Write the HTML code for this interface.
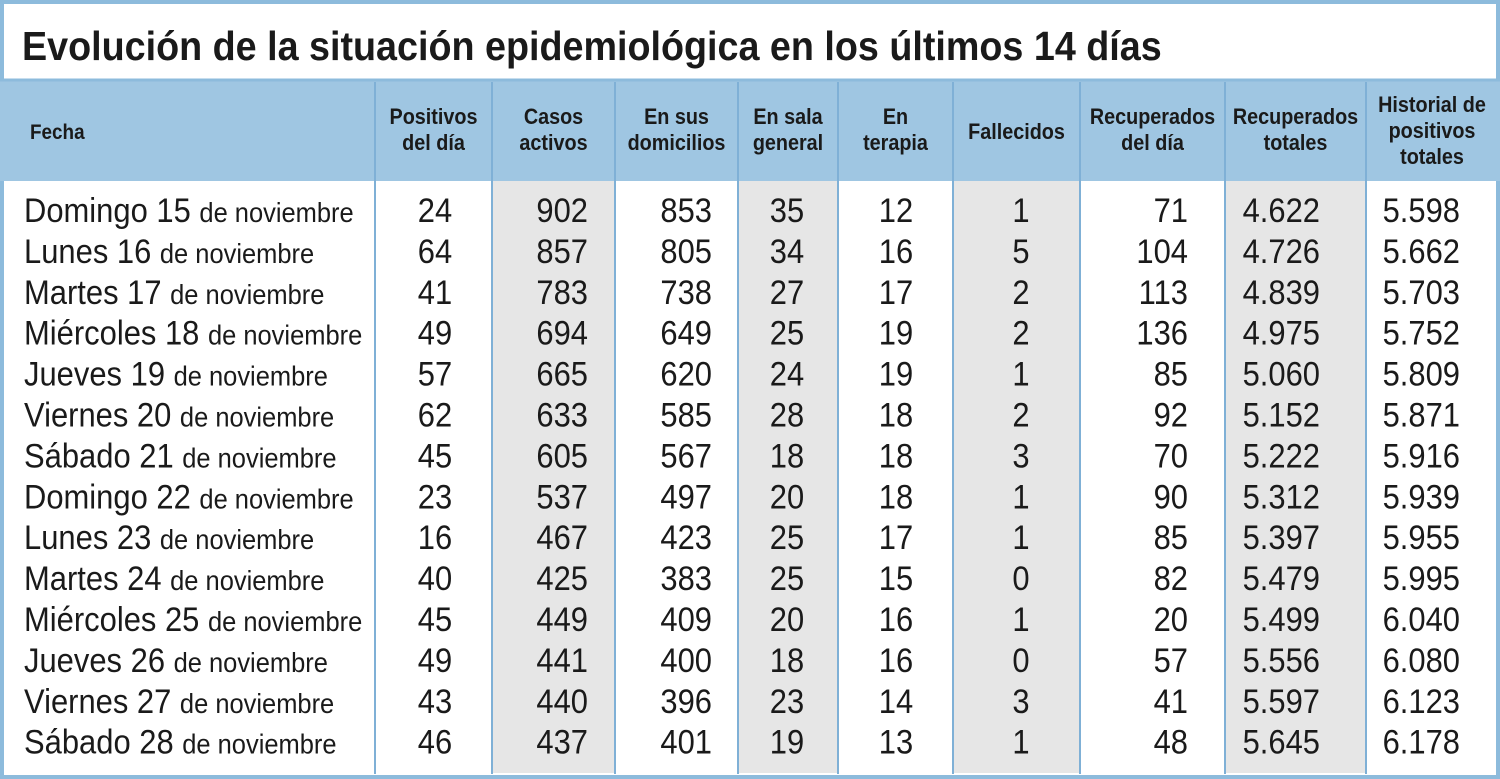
<!DOCTYPE html>
<html><head><meta charset="utf-8"><style>
html,body{margin:0;padding:0;background:#fff}
svg{display:block}
text{font-family:"Liberation Sans",sans-serif;fill:#1a1a1a}
</style></head><body>
<svg id="s" width="1500" height="779" viewBox="0 0 1500 779">
<rect x="0" y="0" width="1500" height="779" fill="#fff"/>
<rect x="2" y="2" width="1496" height="775" fill="none" stroke="#8dbbdc" stroke-width="4"/>
<rect x="0" y="80" width="1500" height="101" fill="#9fc6e2"/>
<line x1="0" y1="80" x2="1500" y2="80" stroke="#8dbbdc" stroke-width="3"/>
<text transform="translate(22,60) scale(0.92,1)" font-size="41" font-weight="bold">Evolución de la situación epidemiológica en los últimos 14 días</text>
<g id="grid"></g>
<g id="body"></g>
</svg>
<script>
const headers=[["Positivos","del día"],["Casos","activos"],["En sus","domicilios"],["En sala","general"],["En","terapia"],["Fallecidos"],["Recuperados","del día"],["Recuperados","totales"],["Historial de","positivos","totales"]];
const days=["Domingo 15","Lunes 16","Martes 17","Miércoles 18","Jueves 19","Viernes 20","Sábado 21","Domingo 22","Lunes 23","Martes 24","Miércoles 25","Jueves 26","Viernes 27","Sábado 28"];
const positivos=[24,64,41,49,57,62,45,23,16,40,45,49,43,46];
const activos=[902,857,783,694,665,633,605,537,467,425,449,441,440,437];
const domicilios=[853,805,738,649,620,585,567,497,423,383,409,400,396,401];
const sala=[35,34,27,25,24,28,18,20,25,25,20,18,23,19];
const terapia=[12,16,17,19,19,18,18,18,17,15,16,16,14,13];
const fallecidos=[1,5,2,2,1,2,3,1,1,0,1,0,3,1];
const recDia=[71,104,113,136,85,92,70,90,85,82,20,57,41,48];
const recTot=["4.622","4.726","4.839","4.975","5.060","5.152","5.222","5.312","5.397","5.479","5.499","5.556","5.597","5.645"];
const historial=["5.598","5.662","5.703","5.752","5.809","5.871","5.916","5.939","5.955","5.995","6.040","6.080","6.123","6.178"];
const cols=[positivos,activos,domicilios,sala,terapia,fallecidos,recDia,recTot,historial];
const bounds=[375,492,615,738,838,953,1080,1225,1366,1498];
const anchors=[[435,'middle'],[588,'end'],[712,'end'],[787,'middle'],[896,'middle'],[1021,'middle'],[1188,'end'],[1320,'end'],[1460,'end']];
const shaded=[1,3,5,7];
const NS="http://www.w3.org/2000/svg";
const grid=document.getElementById('grid'),body=document.getElementById('body');
function mk(tag,attrs,parent){const e=document.createElementNS(NS,tag);for(const k in attrs)e.setAttribute(k,attrs[k]);parent.appendChild(e);return e;}
const rowY=i=>222+i*40.9;
shaded.forEach(c=>{const r=mk('rect',{x:bounds[c],y:181,width:bounds[c+1]-bounds[c],height:592,fill:'#e6e6e6'},grid);

});
bounds.slice(0,9).forEach(x=>{const l=mk('line',{x1:x,y1:82,x2:x,y2:774,stroke:'#7fb0d6','stroke-width':2},grid);

});
const fh=mk('text',{transform:'translate(30,139) scale(0.9,1)','font-size':21,'font-weight':'bold'},body);fh.textContent='Fecha';


headers.forEach((h,c)=>{const cx=(bounds[c]+bounds[c+1])/2;const n=h.length;const y0=(n===3?112:n===2?124:139);
h.forEach((ln,j)=>{const t=mk('text',{transform:`translate(${cx},${y0+j*26}) scale(0.9,1)`,'font-size':22,'font-weight':'bold','text-anchor':'middle'},body);t.textContent=ln;

});});
days.forEach((d,i)=>{const y=rowY(i);
const t=mk('text',{transform:`translate(24,${y}) scale(0.91,1)`,'font-size':34},body);
const a=mk('tspan',{},t);a.textContent=d+' ';const b=mk('tspan',{'font-size':28},t);b.textContent='de noviembre';


cols.forEach((arr,c)=>{const v=mk('text',{transform:`translate(${anchors[c][0]},${y}) scale(0.91,1)`,'font-size':34,'text-anchor':anchors[c][1]},body);v.textContent=arr[i];

});});
</script>
</body></html>
